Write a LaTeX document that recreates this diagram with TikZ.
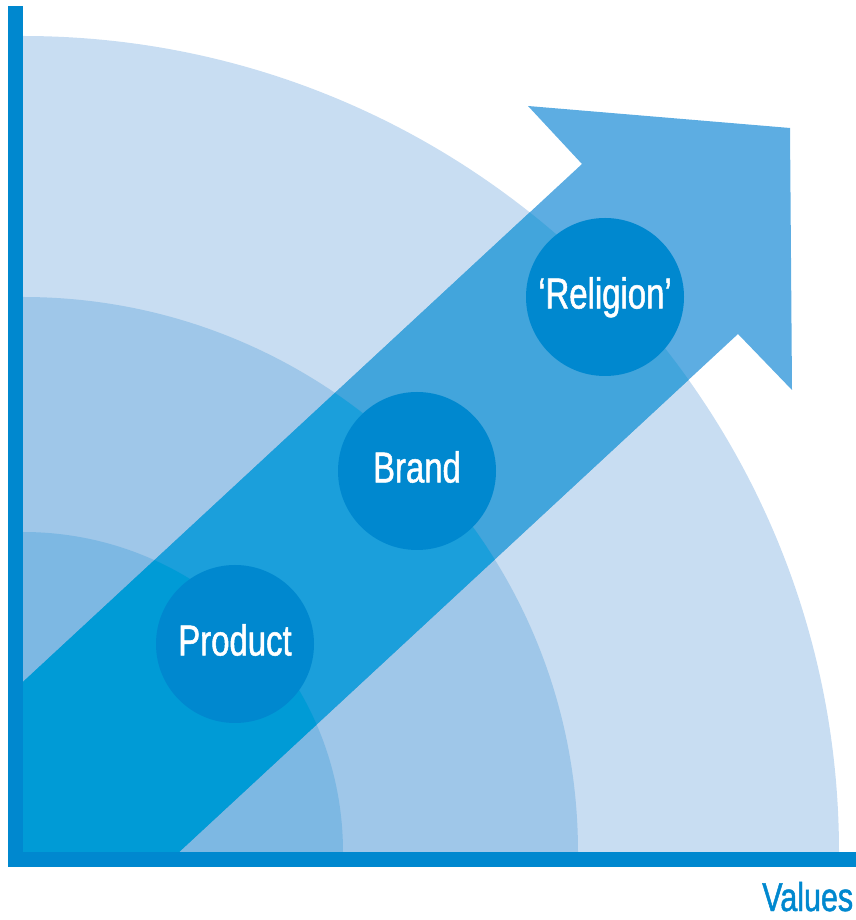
\documentclass[tikz,border=0pt]{standalone}
\usepackage{fontspec}
\setmainfont{Liberation Sans}
\newfontfamily\narrowfont[FakeStretch=0.76,FakeBold=1.2]{Liberation Sans}

\definecolor{axisblue}{HTML}{0088CF}
\definecolor{ringa}{HTML}{7DB8E3}
\definecolor{ringb}{HTML}{9FC7E9}
\definecolor{ringc}{HTML}{C8DDF2}
\definecolor{arrowa}{HTML}{009BD6}
\definecolor{arrowb}{HTML}{1B9FDB}
\definecolor{arrowc}{HTML}{42A5DC}
\definecolor{arrowd}{HTML}{5DADE2}

\begin{document}
\begin{tikzpicture}[
  stage/.style={circle,fill=axisblue,minimum size=3.95cm,inner sep=0pt,text=white,
    text height=22pt,text depth=0.2cm,font=\narrowfont\fontsize{30.8}{36}\selectfont},
]
\useasboundingbox (-0.575,-1.7) rectangle (20.825,21.3);

% quarter rings around the corner
\foreach \r/\c in {20.4/ringc, 13.875/ringb, 8/ringa}
  \fill[\c] (0,0) -- (\r,0) arc (0:90:\r) -- cycle;

% the big arrow
\fill[arrowd] (0,0) -- (0,4.25) -- (13.975,17.2) -- (12.625,18.65) -- (19.175,18.1)
  -- (19.225,11.55) -- (17.875,12.95) -- (3.9,0) -- cycle;
\begin{scope}
  \clip (0,0) -- (0,4.25) -- (13.975,17.2) -- (12.625,18.65) -- (19.175,18.1)
    -- (19.225,11.55) -- (17.875,12.95) -- (3.9,0) -- cycle;
  \foreach \r/\c in {20.4/arrowc, 13.875/arrowb, 8/arrowa}
    \fill[\c] (0,0) -- (\r,0) arc (0:90:\r) -- cycle;
\end{scope}

% axes
\fill[axisblue] (-0.375,-0.375) rectangle (0,21.15);
\fill[axisblue] (-0.375,-0.375) rectangle (20.825,0);

% stages along the arrow
\node[stage] (product) at (5.3,5.2) {Product};
\node[stage] (brand) at (9.85,9.525) {Brand};
\node[stage] (religion) at (14.55,13.875) {‘Religion’};

\node[anchor=base west,inner sep=0pt,text=axisblue,
  font=\narrowfont\fontsize{28.5}{32}\selectfont] (values) at (18.475,-1.475) {Values};
\end{tikzpicture}
\end{document}
